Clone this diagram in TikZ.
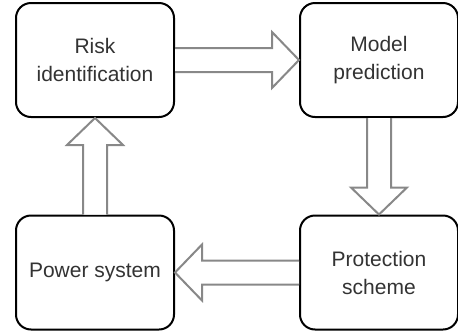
\documentclass[tikz,border=0pt]{standalone}
\usepackage{fontspec}
\setmainfont{Liberation Sans}
\usetikzlibrary{calc}
\definecolor{txtgray}{RGB}{51,51,51}
\definecolor{arrgray}{RGB}{136,136,136}
\tikzset{
	stepbox/.style={draw=black, line width=1.5pt, fill=white, rounded corners=11.25pt,
		minimum width=118.5pt, minimum height=85.5pt, align=center, text=txtgray,
		font=\fontsize{15.75pt}{21pt}\selectfont},
	hollow/.style={draw=arrgray, line width=1.5pt, fill=white, line join=miter}
}
\begin{document}
\begin{tikzpicture}[x=0.75pt,y=0.75pt,yscale=-1,xscale=1]
		\useasboundingbox (0,0) rectangle (458,333);
		
		% Boxes
		\node[stepbox] (risk) at (95,60) {Risk\\identification};
		\node[stepbox] (model) at (379,60) {Model\\prediction};
		\node[stepbox] (power) at (95,272.5) {Power system};
		\node[stepbox] (prot) at (379,272.5) {Protection\\scheme};
		
		% Block arrow: risk -> model
		\draw[hollow] ($(risk.east)+(0,-12)$) -- ($(model.west)+(-27,-12)$) -- ++(0,-16) -- (model.west)
			-- ($(model.west)+(-27,28)$) -- ++(0,-16) -- ($(risk.east)+(0,12)$);
		% Block arrow: model -> prot
		\draw[hollow] ($(model.south)+(-12,0)$) -- ($(prot.north)+(-12,-27)$) -- ++(-16,0) -- (prot.north)
			-- ($(prot.north)+(28,-27)$) -- ++(-16,0) -- ($(model.south)+(12,0)$);
		% Block arrow: prot -> power
		\draw[hollow] ($(prot.west)+(0,-12)$) -- ($(power.east)+(27,-12)$) -- ++(0,-16) -- (power.east)
			-- ($(power.east)+(27,28)$) -- ++(0,-16) -- ($(prot.west)+(0,12)$);
		% Block arrow: power -> risk
		\draw[hollow] ($(power.north)+(-12,0)$) -- ($(risk.south)+(-12,27)$) -- ++(-16,0) -- (risk.south)
			-- ($(risk.south)+(28,27)$) -- ++(-16,0) -- ($(power.north)+(12,0)$);
		
\end{tikzpicture}
\end{document}
